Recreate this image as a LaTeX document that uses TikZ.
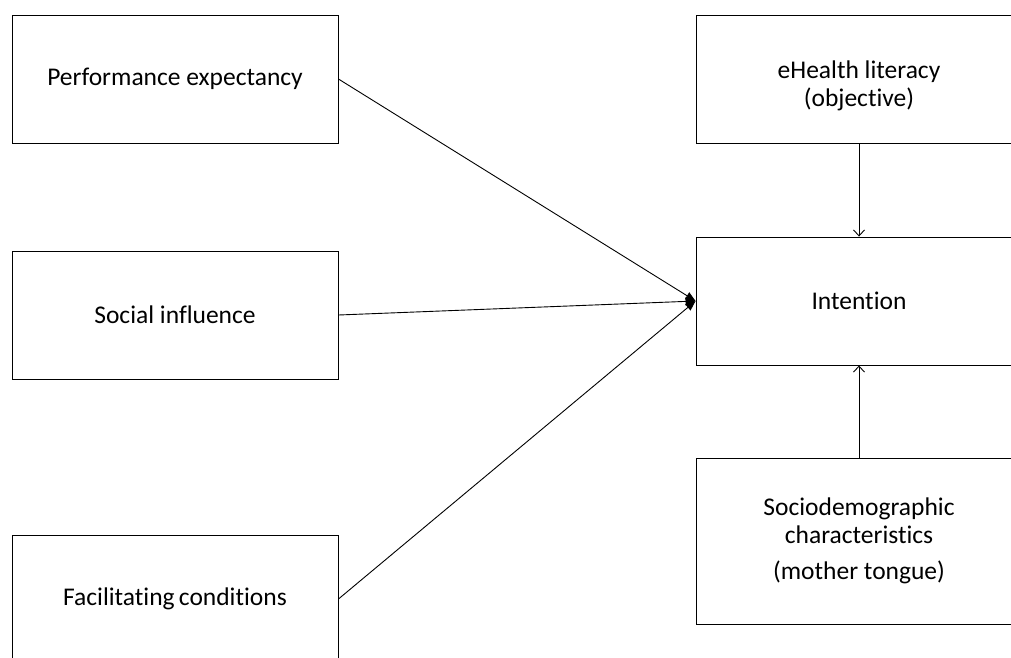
\documentclass[tikz,border=0pt]{standalone}
\usepackage{fontspec}
\setmainfont{Carlito}[Ligatures=NoCommon]
\usetikzlibrary{arrows.meta}

\begin{document}
\begin{tikzpicture}
        [x=1pt,y=-1pt,line width=0.9pt,
         every node/.style={draw,shape=rectangle,align=center,minimum width=326pt,minimum height=128pt,
                            inner sep=0,font=\fontsize{25.5}{28}\selectfont}]

        \useasboundingbox (0, 0) rectangle (1011, 657);
        \clip (0, 0) rectangle (1011, 657);

        \node (perf) at (175, 79) {Performance expectancy};
        \node (social) at (175, 315) {Social influence};
        \node (facil) at (175, 599) {Facilitating\,conditions};

        \node (health) at (859, 79) {\rule{0pt}{32pt}eHealth literacy\\(objective)};
        \node (intent) at (859, 301) {Intention};
        \node[minimum height=166pt] (socio) at (859, 541) {Sociodemographic\\characteristics\\[8pt](mother tongue)};

        \draw[-{Triangle[length=10pt,width=8pt]}] (perf.east) -- (intent.west);
        \draw[-{Triangle[length=10pt,width=8pt]}] (social.east) -- (intent.west);
        \draw[-{Triangle[length=10pt,width=8pt]}] (facil.east) -- (intent.west);

        \draw[-{Straight Barb[length=6pt,width=11pt]}] (health) -- (intent);
        \draw[-{Straight Barb[length=6pt,width=11pt]}] (socio) -- (intent);
      \end{tikzpicture}
\end{document}
